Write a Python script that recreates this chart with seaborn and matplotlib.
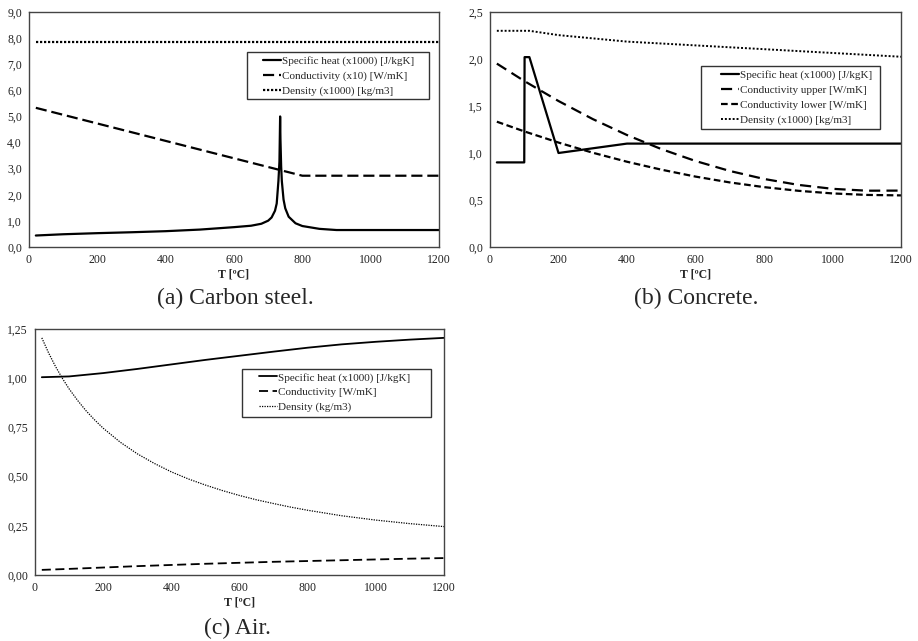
import numpy as np
import matplotlib
matplotlib.use("Agg")
import matplotlib.pyplot as plt
import seaborn as sns
from matplotlib.ticker import MultipleLocator, FuncFormatter
from matplotlib.patches import Rectangle

# ---- (a) carbon steel ----
steel_cp_T = [20, 100, 200, 300, 400, 500, 600, 650, 680, 700, 710, 720, 725, 730,
              733, 735, 736, 738, 740, 745, 750, 760, 780, 800, 850, 900, 1200]
steel_cp = [0.44, 0.488, 0.530, 0.565, 0.606, 0.667, 0.760, 0.815, 0.890, 1.008,
            1.130, 1.389, 1.666, 2.524, 3.267, 5.000, 4.109, 3.091, 2.525, 1.818,
            1.483, 1.159, 0.909, 0.803, 0.695, 0.650, 0.650]
steel_k_T = [20, 800, 1200]
steel_k = [5.33, 2.73, 2.73]
steel_rho_T = [20, 1200]
steel_rho = [7.85, 7.85]

# ---- (b) concrete ----
conc_cp_T = [20, 100, 101, 115, 200, 400, 1200]
conc_cp = [0.9, 0.9, 2.02, 2.02, 1.0, 1.1, 1.1]
conc_T = [20, 100, 200, 300, 400, 500, 600, 700, 800, 900, 1000, 1100, 1200]
conc_k_upper = [1.951, 1.766, 1.553, 1.361, 1.191, 1.042, 0.915, 0.809, 0.724,
                0.661, 0.619, 0.599, 0.600]
conc_k_lower = [1.333, 1.230, 1.111, 1.003, 0.907, 0.823, 0.749, 0.687, 0.637,
                0.598, 0.570, 0.554, 0.549]
conc_rho_T = [20, 115, 200, 400, 1200]
conc_rho = [2.30, 2.30, 2.254, 2.185, 2.024]

# ---- (c) air ----
air_T = [20, 100, 200, 300, 400, 500, 600, 700, 800, 900, 1000, 1100, 1200]
air_cp = [1.005, 1.009, 1.026, 1.047, 1.070, 1.093, 1.114, 1.135, 1.155, 1.172,
          1.185, 1.196, 1.205]
air_k = [0.026, 0.031, 0.038, 0.045, 0.051, 0.057, 0.062, 0.067, 0.071, 0.075,
         0.079, 0.083, 0.086]
air_rho_T = [20, 40, 60, 80, 100, 125, 150, 175, 200, 250, 300, 350, 400, 450,
             500, 550, 600, 650, 700, 750, 800, 900, 1000, 1100, 1200]
air_rho = [1.205, 1.128, 1.060, 1.000, 0.946, 0.887, 0.834, 0.788, 0.746, 0.675,
           0.616, 0.567, 0.524, 0.488, 0.457, 0.429, 0.404, 0.382, 0.363, 0.345,
           0.329, 0.301, 0.279, 0.261, 0.246]

sns.set_style("white")
plt.rcParams["font.family"] = ["Liberation Serif", "DejaVu Serif"]

W, H = 918, 641
fig = plt.figure(figsize=(W / 100, H / 100), dpi=100)


def make_ax(left, right, top, bottom):
    ax = fig.add_axes([left / W, 1 - bottom / H, (right - left) / W, (bottom - top) / H])
    ax._px = (left, right, top, bottom)
    return ax


def px2ax(ax, x, y):
    left, right, top, bottom = ax._px
    return (x - left) / (right - left), (bottom - y) / (bottom - top)


def style_ax(ax, ymax, ymaj, ymin, ydec):
    ax.set_xlim(0, 1200)
    ax.set_ylim(0, ymax)
    ax.xaxis.set_major_locator(MultipleLocator(200))
    ax.xaxis.set_minor_locator(MultipleLocator(40))
    ax.yaxis.set_major_locator(MultipleLocator(ymaj))
    ax.yaxis.set_minor_locator(MultipleLocator(ymin))
    ax.yaxis.set_major_formatter(FuncFormatter(lambda v, p: f"{v:.{ydec}f}".replace(".", ",")))
    ax.tick_params(which="both", direction="in", labelsize=8.5, colors="#333333",
                   labelcolor="#222222", width=0.8)
    ax.tick_params(which="major", length=4, pad=5)
    ax.tick_params(which="minor", length=2.5)
    for s in ax.spines.values():
        s.set_visible(True)
        s.set_color("#444444")
        s.set_linewidth(1.0)
    ax.set_xlabel("T [ºC]", fontsize=8.5, fontweight="bold", labelpad=2)
    ax.set_ylabel("")


def line(ax, x, y, ls, lw, label):
    sns.lineplot(x=x, y=y, ax=ax, color="black", linestyle=ls, linewidth=lw,
                 sort=False, estimator=None, label=label, legend=False)


def legend(ax, box, handle_x, mid_y):
    # box = (left, right, top, bottom) in figure pixels
    x0, y0 = px2ax(ax, box[0], box[3])
    x1, y1 = px2ax(ax, box[1], box[2])
    ax.add_patch(Rectangle((x0, y0), x1 - x0, y1 - y0, transform=ax.transAxes,
                           facecolor="white", edgecolor="#333333", linewidth=1.0,
                           zorder=4, clip_on=False))
    ax.legend(loc="center left", bbox_to_anchor=px2ax(ax, handle_x, mid_y), fontsize=8,
              frameon=False, handlelength=1.65, handletextpad=0.05, labelspacing=0.45,
              borderpad=0, borderaxespad=0).set_zorder(5)


# (a)
ax1 = make_ax(29, 439, 12, 247)
line(ax1, steel_cp_T, steel_cp, "-", 1.6, "Specific heat (x1000) [J/kgK]")
line(ax1, steel_k_T, steel_k, (0, (5, 2.2)), 1.6, "Conductivity (x10) [W/mK]")
line(ax1, steel_rho_T, steel_rho, (0, (1, 0.8)), 1.6, "Density (x1000) [kg/m3]")
style_ax(ax1, 9, 1, 0.2, 1)
legend(ax1, (247, 429, 52, 99), 263, 76)

# (b)
ax2 = make_ax(490, 901, 12, 247)
line(ax2, conc_cp_T, conc_cp, "-", 1.6, "Specific heat (x1000) [J/kgK]")
line(ax2, conc_T, conc_k_upper, (0, (5, 2.8)), 1.6, "Conductivity upper [W/mK]")
line(ax2, conc_T, conc_k_lower, (0, (3, 1.6)), 1.6, "Conductivity lower [W/mK]")
line(ax2, conc_rho_T, conc_rho, (0, (1, 1)), 1.4, "Density (x1000) [kg/m3]")
style_ax(ax2, 2.5, 0.5, 0.1, 1)
legend(ax2, (701, 880, 66, 129), 721, 97.5)

# (c)
ax3 = make_ax(35, 444, 329, 575)
line(ax3, air_T, air_cp, "-", 1.3, "Specific heat (x1000) [J/kgK]")
line(ax3, air_T, air_k, (0, (5, 2.5)), 1.3, "Conductivity [W/mK]")
line(ax3, air_rho_T, air_rho, (0, (1, 1)), 0.9, "Density (kg/m3)")
style_ax(ax3, 1.25, 0.25, 0.05, 2)
legend(ax3, (242, 431, 369, 417), 259, 392.5)

# captions
fig.text(235 / W, 1 - 298 / H, "(a) Carbon steel.", ha="center", va="center", fontsize=17)
fig.text(696 / W, 1 - 298 / H, "(b) Concrete.", ha="center", va="center", fontsize=17)
fig.text(237 / W, 1 - 628 / H, "(c) Air.", ha="center", va="center", fontsize=17)

fig.savefig("out.png", dpi=100)
